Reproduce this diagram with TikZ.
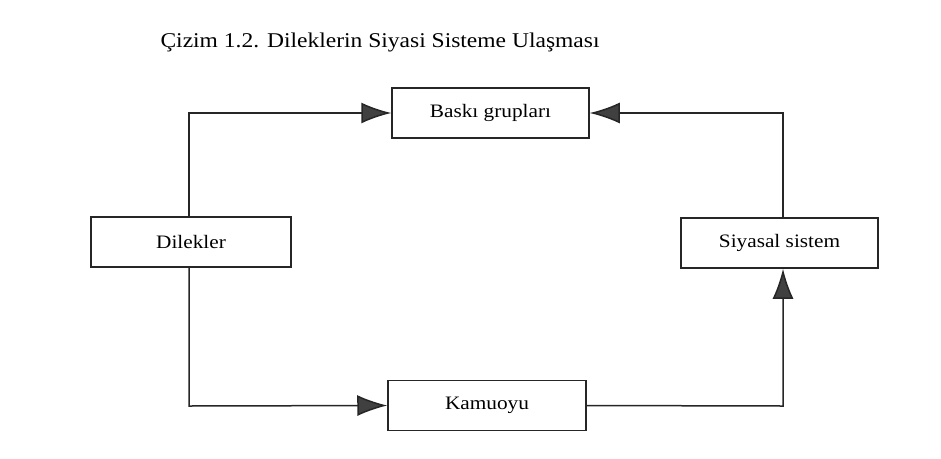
\documentclass[tikz,border=0pt]{standalone}
\usepackage{fontspec}
\setmainfont{Liberation Serif}[FakeStretch=1.12]
\usetikzlibrary{arrows.meta}
\begin{document}
\begin{tikzpicture}[x=1pt,y=-1pt,
  box/.style={draw=black!85,line width=1.5pt,minimum width=#1,minimum height=50pt,inner sep=0pt,font=\fontsize{19}{21}\selectfont},
  conn/.style={draw=black!85,line width=1.5pt},
  arr/.style={conn,-{Latex[length=30pt,width=21pt,fill=black!75]}}]
\useasboundingbox (0,0) rectangle (941,458);
\node[anchor=west,font=\fontsize{21}{24}\selectfont] (title) at (157,42) {Çizim 1.2. Dileklerin Siyasi Sisteme Ulaşması};
\node[box=197pt] (baski) at (490.5,113) {Baskı grupları};
\node[box=200pt] (dilek) at (191,242) {Dilekler};
\node[box=197pt] (siyasal) at (779.5,243) {Siyasal sistem};
\node[box=198pt] (kamu) at (487,405.5) {Kamuoyu};
\coordinate (tl) at (189,113);
\coordinate (tr) at (783,113);
\coordinate (bl) at (189,406);
\coordinate (br) at (783,406);
\draw[arr] (dilek.north -| tl) -- (tl) -- (baski.west);
\draw[arr] (siyasal.north -| tr) -- (tr) -- (baski.east);
\draw[arr] (dilek.south -| bl) -- (bl) -- (kamu.west);
\draw[arr] (kamu.east) -- (br) -- (siyasal.south -| br);
\end{tikzpicture}
\end{document}
